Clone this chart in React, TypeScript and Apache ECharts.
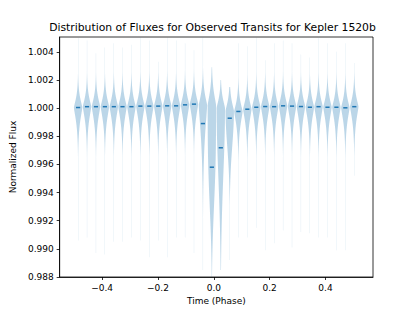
import React, { useEffect, useRef } from "react";
import * as echarts from "echarts";

const TITLE = "Distribution of Fluxes for Observed Transits for Kepler 1520b";
const X_LABEL = "Time (Phase)";
const Y_LABEL = "Normalized Flux";
const X_TICKS = [-0.4, -0.2, 0, 0.2, 0.4];
const Y_TICKS = [0.988, 0.99, 0.992, 0.994, 0.996, 0.998, 1.0, 1.002, 1.004];

// phase position of each violin
const POSITIONS = [
  -0.486, -0.454, -0.422, -0.39, -0.358, -0.327, -0.295, -0.263,
  -0.231, -0.199, -0.167, -0.135, -0.103, -0.071, -0.039, -0.007,
  0.025, 0.057, 0.088, 0.12, 0.152, 0.184, 0.216, 0.248,
  0.28, 0.312, 0.344, 0.375, 0.407, 0.439, 0.471, 0.503,
];
// median flux of each violin
const MEDIANS = [
  1.00004, 1.0001, 1.0001, 1.0001, 1.0001, 1.0001, 1.0001, 1.00014,
  1.00014, 1.00014, 1.00016, 1.00016, 1.00023, 1.00028, 0.9989, 0.9958,
  0.99718, 0.99928, 0.99976, 0.99992, 1.00006, 1.00011, 1.0001, 1.00016,
  1.00014, 1.00011, 1.00006, 1.0001, 1.00006, 1.00006, 1.00002, 1.0001,
];
// flux at which each density peaks
const PEAKS = [
  1.00004, 1.0001, 1.0001, 1.0001, 1.0001, 1.0001, 1.0001, 1.00014,
  1.00014, 1.00014, 1.00016, 1.00016, 1.00023, 1.00028, 1.0002, 1.0002,
  1.0, 0.9998, 0.99976, 0.99992, 1.00006, 1.00011, 1.0001, 1.00016,
  1.00014, 1.00011, 1.00006, 1.0001, 1.00006, 1.00006, 1.00002, 1.0001,
];
// spread of the density above / below the peak
const UPPER_SPREAD = [
  0.0009, 0.0009, 0.0009, 0.0009, 0.0009, 0.0009, 0.0009, 0.0009,
  0.0009, 0.0009, 0.0009, 0.0009, 0.0009, 0.0009, 0.001, 0.0012,
  0.0009, 0.0009, 0.0009, 0.0009, 0.0009, 0.0009, 0.0009, 0.0009,
  0.0009, 0.0009, 0.0009, 0.0009, 0.0009, 0.0009, 0.0009, 0.0009,
];
const LOWER_SPREAD = [
  0.0013, 0.0013, 0.0013, 0.0013, 0.0013, 0.0013, 0.0013, 0.0013,
  0.0013, 0.0013, 0.0013, 0.0013, 0.0013, 0.0013, 0.0029, 0.0082,
  0.0067, 0.0035, 0.0013, 0.0013, 0.0013, 0.0013, 0.0013, 0.0013,
  0.0013, 0.0013, 0.0013, 0.0013, 0.0013, 0.0013, 0.0013, 0.0013,
];
const LOWER_SHAPE = [
  1.3, 1.3, 1.3, 1.3, 1.3, 1.3, 1.3, 1.3,
  1.3, 1.3, 1.3, 1.3, 1.3, 1.3, 1.3, 3,
  2, 2, 1.3, 1.3, 1.3, 1.3, 1.3, 1.3,
  1.3, 1.3, 1.3, 1.3, 1.3, 1.3, 1.3, 1.3,
];
// extreme fluxes in each bin
const TAIL_TOP = [
  1.005, 1.0048, 1.0039, 1.0043, 1.0046, 1.0043, 1.0045, 1.0052,
  1.0048, 1.0033, 1.005, 1.0048, 1.0046, 1.0041, 1.0051, 1.0029,
  1.002, 1.0015, 1.0046, 1.0044, 1.005, 1.0034, 1.0046, 1.0048,
  1.0046, 1.0038, 1.0036, 1.005, 1.0046, 1.004, 1.0046, 1.0032,
];
const TAIL_BOTTOM = [
  0.9906, 0.9908, 0.9897, 0.9896, 0.9905, 0.9905, 0.9908, 0.9906,
  0.9894, 0.9906, 0.9894, 0.9908, 0.9908, 0.9897, 0.9885, 0.9875,
  0.9885, 0.9892, 0.9908, 0.9908, 0.9915, 0.9899, 0.9904, 0.9913,
  0.9901, 0.9912, 0.9911, 0.9908, 0.9908, 0.9899, 0.9899, 0.9952,
];
const VIOLIN_WIDTH = 0.03;

const FONT = "DejaVu Sans";

export default function App() {
  const ref = useRef<HTMLDivElement>(null);
  useEffect(() => {
    document.body.style.margin = "0";
    const chart = echarts.init(ref.current!, undefined, { renderer: "svg" });
    const axisText = { fontSize: 9, color: "#000", fontFamily: FONT };
    chart.setOption({
      animation: false,
      backgroundColor: "#fff",
      title: {
        text: TITLE,
        left: 212.5,
        textAlign: "center",
        top: 22,
        padding: 0,
        textStyle: { fontSize: 10.8, fontWeight: "normal", color: "#000", fontFamily: FONT },
      },
      grid: {
        left: 52,
        right: 42,
        top: 37,
        bottom: 34,
        show: true,
        borderColor: "#000",
        borderWidth: 0.8,
        containLabel: false,
      },
      xAxis: {
        type: "value",
        min: -0.552,
        max: 0.57,
        name: X_LABEL,
        nameLocation: "middle",
        nameGap: 16,
        nameTextStyle: axisText,
        splitLine: { show: false },
        axisLine: { show: true, onZero: false, lineStyle: { color: "#000", width: 0.8 } },
        axisTick: { show: true, customValues: X_TICKS, length: 3, lineStyle: { color: "#000", width: 0.8 } },
        axisLabel: {
          customValues: X_TICKS,
          margin: 6,
          ...axisText,
          formatter: (v: number) => (v < -1e-9 ? "\u2212" : "") + Math.abs(v).toFixed(1),
        },
      },
      yAxis: {
        type: "value",
        min: 0.988,
        max: 1.00505,
        name: Y_LABEL,
        nameLocation: "middle",
        nameGap: 37,
        nameTextStyle: axisText,
        splitLine: { show: false },
        axisLine: { show: true, onZero: false, lineStyle: { color: "#000", width: 0.8 } },
        axisTick: { show: true, customValues: Y_TICKS, length: 3, lineStyle: { color: "#000", width: 0.8 } },
        axisLabel: {
          customValues: Y_TICKS,
          margin: 6,
          ...axisText,
          formatter: (v: number) => v.toFixed(3),
        },
      },
      series: [
        {
          type: "custom",
          clip: true,
          data: POSITIONS.map((p, i) => [i, p, MEDIANS[i]]),
          encode: { x: 1, y: 2 },
          renderItem: (params: any, api: any) => {
            const i = api.value(0);
            const x = POSITIONS[i];
            const half = api.size([VIOLIN_WIDTH / 2, 0])[0];
            const floorPx = 0.1;
            const left: number[][] = [];
            const right: number[][] = [];
            const n = Math.ceil((TAIL_TOP[i] - TAIL_BOTTOM[i]) / 0.00004);
            for (let k = 0; k <= n; k++) {
              const y = TAIL_BOTTOM[i] + ((TAIL_TOP[i] - TAIL_BOTTOM[i]) * k) / n;
              const d = y - PEAKS[i];
              const f =
                d >= 0
                  ? Math.exp(-Math.pow(d / UPPER_SPREAD[i], 1.3))
                  : Math.exp(-Math.pow(-d / LOWER_SPREAD[i], LOWER_SHAPE[i]));
              const w = Math.max(half * f, floorPx);
              const c = api.coord([x, y]);
              right.push([c[0] + w, c[1]]);
              left.push([c[0] - w, c[1]]);
            }
            const pts = right.concat(left.reverse());
            const m0 = api.coord([x - VIOLIN_WIDTH / 4, MEDIANS[i]]);
            const m1 = api.coord([x + VIOLIN_WIDTH / 4, MEDIANS[i]]);
            return {
              type: "group",
              children: [
                { type: "polygon", shape: { points: pts }, style: { fill: "rgba(31,119,180,0.3)" } },
                {
                  type: "line",
                  shape: { x1: m0[0], y1: m0[1], x2: m1[0], y2: m1[1] },
                  style: { stroke: "#1f77b4", lineWidth: 1.5 },
                },
              ],
            };
          },
        },
      ],
    });
    return () => chart.dispose();
  }, []);
  return <div ref={ref} style={{ width: 415, height: 311, position: "absolute", left: 0, top: 0 }} />;
}
